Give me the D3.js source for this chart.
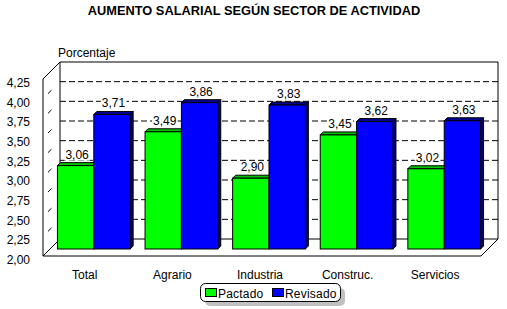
<!DOCTYPE html>
<html>
<head>
<meta charset="utf-8">
<script src="https://cdn.jsdelivr.net/npm/d3@7"></script>
<style>
  body { margin: 0; background: #fff; }
  svg text { font-family: "Liberation Sans", Arial, sans-serif; }
</style>
</head>
<body>
<div id="chart"></div>
<script>
const categories = ["Total", "Agrario", "Industria", "Construc.", "Servicios"];
const seriesNames = ["Pactado", "Revisado"];
const pactado = [3.06, 3.49, 2.90, 3.45, 3.02];
const revisado = [3.71, 3.86, 3.83, 3.62, 3.63];
const yTicks = [2.00, 2.25, 2.50, 2.75, 3.00, 3.25, 3.50, 3.75, 4.00, 4.25];

const width = 507, height = 309;
const depth = 17;          // floor depth (front -> back wall)
const barZ = 7, barDepth = 3;
const palette = {
  Pactado: { front: "#00ff00", top: "#00c000", side: "#008000" },
  Revisado: { front: "#0000ff", top: "#000090", side: "#000080" }
};

const svg = d3.select("#chart").append("svg")
  .attr("width", width)
  .attr("height", height);

// front plane scales; the 3D offset is (+z, -z)
const x0 = d3.scaleBand().domain(categories).range([43, 481])
  .paddingInner(0.17).paddingOuter(0.085);
const x1 = d3.scaleBand().domain(seriesNames).range([0, x0.bandwidth()]);
const y = d3.scaleLinear().domain([2, 4.25]).range([256, 79]);

const pt = (x, yy, z) => [x + z, yy - z];
const fmt = v => d3.format(".2f")(v).replace(".", ",");

svg.append("text")
  .attr("x", 254).attr("y", 15)
  .attr("text-anchor", "middle")
  .attr("font-size", 12.8).attr("font-weight", "bold")
  .text("AUMENTO SALARIAL SEGÚN SECTOR DE ACTIVIDAD");

svg.append("text")
  .attr("x", 58).attr("y", 57)
  .attr("font-size", 12)
  .text("Porcentaje");

// walls
const [x0L, x0R] = x0.range();
const line = d3.line();
const walls = svg.append("g").attr("fill", "none").attr("stroke", "#000");

// back wall gridlines
walls.selectAll("line.grid").data(yTicks.slice(1, -1)).join("line")
  .attr("class", "grid")
  .attr("x1", x0L + depth).attr("x2", x0R + depth)
  .attr("y1", d => y(d) - depth).attr("y2", d => y(d) - depth)
  .attr("stroke-dasharray", "6,3");

// side wall gridlines
walls.selectAll("line.side").data(yTicks.slice(1, -1)).join("line")
  .attr("class", "side")
  .attr("x1", x0L).attr("y1", d => y(d))
  .attr("x2", x0L + depth).attr("y2", d => y(d) - depth)
  .attr("stroke-dasharray", "0,7,5,20");

const yMin = y.domain()[0], yMax = y.domain()[1];
[
  [pt(x0L, y(yMin), depth), pt(x0R, y(yMin), depth), pt(x0R, y(yMax), depth), pt(x0L, y(yMax), depth), pt(x0L, y(yMin), depth)],
  [pt(x0L, y(yMin), 0), pt(x0L, y(yMax), 0), pt(x0L, y(yMax), depth)],
  [pt(x0L, y(yMin), 0), pt(x0R, y(yMin), 0), pt(x0R, y(yMin), depth)],
  [pt(x0L, y(yMin), 0), pt(x0L, y(yMin), depth)]
].forEach(p => walls.append("path").attr("d", line(p)));

// y tick labels
svg.append("g").selectAll("text").data(yTicks).join("text")
  .attr("x", 30).attr("y", d => y(d) + 8)
  .attr("text-anchor", "end")
  .attr("font-size", 12)
  .text(fmt);

// category labels
svg.append("g").selectAll("text").data(categories).join("text")
  .attr("x", d => x0(d) + x0.bandwidth() / 2 - 2)
  .attr("y", 279)
  .attr("text-anchor", "middle")
  .attr("font-size", 12)
  .text(d => d);

// bars
const bars = [];
categories.forEach((c, i) => {
  bars.push({ cat: c, s: "Pactado", v: pactado[i] });
  bars.push({ cat: c, s: "Revisado", v: revisado[i] });
});

const barG = svg.append("g").attr("stroke", "#000").attr("stroke-width", 1);
bars.forEach(b => {
  const bx = x0(b.cat) + x1(b.s) + barZ;
  const bw = x1.bandwidth();
  const yt = y(b.v) - barZ, yb = y(yMin) - barZ;
  const d = barDepth;
  const col = palette[b.s];
  const g = barG.append("g");
  g.append("path").attr("fill", col.side)
    .attr("d", line([[bx + bw, yt], [bx + bw + d, yt - d], [bx + bw + d, yb - d], [bx + bw, yb]]) + "Z");
  g.append("path").attr("fill", col.top)
    .attr("d", line([[bx, yt], [bx + d, yt - d], [bx + bw + d, yt - d], [bx + bw, yt]]) + "Z");
  g.append("rect").attr("fill", col.front)
    .attr("x", bx).attr("y", yt).attr("width", bw).attr("height", yb - yt);
});

// value labels
const labG = svg.append("g");
bars.forEach(b => {
  const cx = x0(b.cat) + x1(b.s) + barZ + x1.bandwidth() / 2 + 1.5;
  const yt = y(b.v) - barZ - 7;
  const t = labG.append("text")
    .attr("x", cx).attr("y", yt)
    .attr("text-anchor", "middle")
    .attr("font-size", 12)
    .text(fmt(b.v));
  const bb = t.node().getBBox();
  labG.insert("rect", () => t.node())
    .attr("x", bb.x - 1).attr("y", bb.y + 2)
    .attr("width", bb.width + 2).attr("height", bb.height - 3)
    .attr("fill", "#fff");
});

// legend
const leg = svg.append("g");
leg.append("rect").attr("x", 205).attr("y", 288).attr("width", 140).attr("height", 18)
  .attr("rx", 5).attr("fill", "#c0c0c0");
leg.append("rect").attr("x", 200.5).attr("y", 283.5).attr("width", 140).attr("height", 18)
  .attr("rx", 5).attr("fill", "#fff").attr("stroke", "#000");
const legX = [205, 272];
seriesNames.forEach((s, i) => {
  leg.append("rect").attr("x", legX[i] + 0.5).attr("y", 288.5).attr("width", 11).attr("height", 8)
    .attr("fill", palette[s].front).attr("stroke", "#000");
  leg.append("text").attr("x", legX[i] + 13).attr("y", 298)
    .attr("font-size", 12).attr("letter-spacing", 0.2).text(s);
});
</script>
</body>
</html>
